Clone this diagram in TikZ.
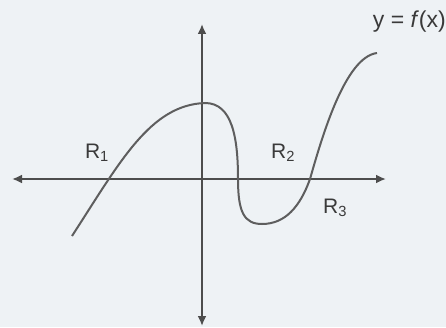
\documentclass[tikz,border=0pt]{standalone}
\usepackage{fontspec}
\setmainfont{Liberation Sans}
\setsansfont{Liberation Sans}
\definecolor{bgpanel}{HTML}{EEF2F5}
\definecolor{axisgray}{HTML}{4D4D4D}
\definecolor{curvegray}{HTML}{5E5E5E}
\definecolor{labelgray}{HTML}{3A3A3A}
\usetikzlibrary{arrows.meta}
\tikzset{every picture/.style={/utils/exec={\sffamily}}}
\tikzset{
  axis/.style={draw=axisgray, line width=2.4pt, {Latex[length=10pt,width=9pt]}-{Latex[length=10pt,width=9pt]}},
  graphline/.style={draw=curvegray, line width=2pt},
  rootlabel/.style={text=labelgray, font=\fontsize{21}{23}\selectfont, inner sep=0pt}
}

\begin{document}
\begin{tikzpicture}[x=1pt, y=1pt]
  \fill [bgpanel] (0,0) rectangle (446,327);
  \useasboundingbox (0,0) rectangle (446,327);

  % axes
  \coordinate (xleft)   at (12,148);
  \coordinate (xright)  at (386,148);
  \coordinate (ytop)    at (202,303);
  \coordinate (ybottom) at (202,1);
  \draw [axis] (xleft) -- (xright);
  \draw [axis] (ybottom) -- (ytop);

  % the curve y = f(x)
  \draw [graphline] (72,91) .. controls (120,165) and (150,222) .. (205,224)
    .. controls (232,224) and (238,190) .. (238,148)
    .. controls (238,115) and (244,103) .. (262,103)
    .. controls (285,103) and (300,120) .. (310,148)
    .. controls (322,190) and (345,270) .. (377,274);

  \node [rootlabel] (rone)   at (97,174)  {R\textsubscript{1}};
  \node [rootlabel] (rtwo)   at (283,174) {R\textsubscript{2}};
  \node [rootlabel] (rthree) at (335,119) {R\textsubscript{3}};
  \node [rootlabel, font=\fontsize{23}{25}\selectfont, anchor=east] (fname) at (446,305) {y = \textit{f}(x)};
\end{tikzpicture}
\end{document}
